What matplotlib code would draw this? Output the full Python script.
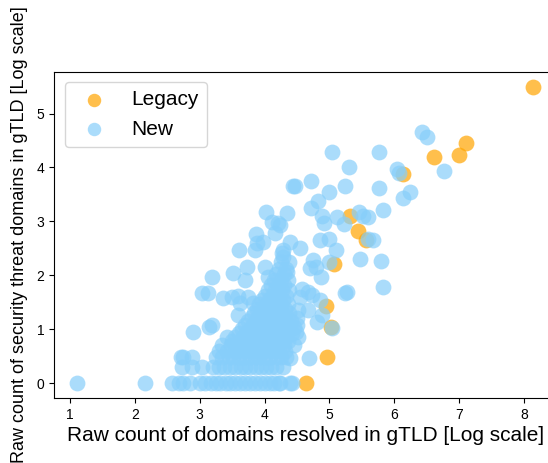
import matplotlib
matplotlib.use('Agg')
import matplotlib.pyplot as plt

plt.rcParams['font.family'] = ['Liberation Sans', 'DejaVu Sans']

# legacy gTLDs (log10 resolved, log10 threat)
legacy_x = [8.14, 7.10, 6.99, 6.61, 6.14, 5.31, 5.44, 5.56, 5.07, 4.94, 5.02, 4.96, 4.64]
legacy_y = [5.50, 4.46, 4.24, 4.20, 3.88, 3.10, 2.83, 2.66, 2.21, 1.43, 1.04, 0.48, 0.00]

# new gTLDs, the scattered ones
new_spread = [
    (1.11, 0), (2.15, 0), (2.57, 0), (2.68, 0), (2.74, 0), (2.85, 0), (3.00, 0), (3.08, 0),
    (2.71, 0.48), (2.74, 0.48), (2.88, 0.48), (2.73, 0.30), (2.88, 0.30), (3.04, 0.30),
    (2.90, 0.95), (3.14, 1.04), (3.19, 1.08), (3.42, 0.86), (3.59, 1.26),
    (3.04, 1.67), (3.13, 1.67), (3.36, 1.58), (3.50, 1.60), (3.59, 1.62), (3.74, 1.60),
    (3.62, 1.49), (3.82, 1.49),
    (3.19, 1.97), (3.51, 2.04), (3.70, 1.91), (3.73, 2.16), (4.00, 2.16), (4.06, 1.96), (4.34, 2.06),
    (3.60, 2.47), (3.85, 2.47), (3.87, 2.77), (3.97, 2.62), (3.88, 2.60), (4.16, 2.79),
    (4.11, 2.99), (4.20, 2.97), (4.02, 3.18), (4.34, 3.16),
    (4.28, 2.47), (4.39, 2.62), (4.28, 2.34), (4.24, 2.94), (4.27, 2.42), (4.54, 2.51),
    (4.44, 3.66), (4.47, 3.66), (4.71, 3.74), (4.82, 3.38), (4.71, 3.25), (4.88, 3.10), (4.91, 2.97),
    (5.04, 4.28), (5.76, 4.29), (5.30, 4.00), (6.04, 3.98), (6.07, 3.90), (6.42, 4.65),
    (6.51, 4.57), (6.76, 3.94),
    (5.24, 3.66), (5.00, 3.55), (5.76, 3.62), (6.24, 3.55), (6.14, 3.44),
    (5.11, 3.09), (5.22, 2.96), (5.45, 3.18), (5.51, 3.10), (5.60, 3.09), (5.82, 3.22),
    (4.85, 2.66), (4.99, 2.68), (5.10, 2.47), (5.59, 2.68), (5.67, 2.66),
    (4.74, 2.29), (4.79, 2.16), (5.00, 2.25), (5.47, 2.30), (5.79, 2.27), (4.70, 2.14),
    (4.87, 1.97), (4.73, 1.64), (4.67, 1.69), (5.27, 1.69), (5.24, 1.67), (5.82, 1.78),
    (4.85, 1.55),
    (4.67, 1.36), (4.88, 1.26), (4.80, 1.13), (5.04, 1.02), (4.51, 0.86), (4.50, 1.08),
    (4.68, 0.47), (4.39, 0.46), (4.28, 0.30), (4.42, 0), (4.39, 0), (4.24, 0),
]

# new gTLDs, the dense block around 10^4 resolved
new_dense = [
    (3.18, 0), (3.25, 0), (3.32, 0), (3.40, 0), (3.47, 0), (3.55, 0), (3.62, 0), (3.70, 0),
    (3.78, 0), (3.85, 0), (3.93, 0), (4.00, 0), (4.08, 0), (4.15, 0), (4.22, 0),
    (3.20, 0.30), (3.30, 0.30), (3.38, 0.30), (3.46, 0.30), (3.55, 0.30), (3.63, 0.30), (3.70, 0.30),
    (3.78, 0.30), (3.86, 0.30), (3.94, 0.30), (4.02, 0.30), (4.10, 0.30), (4.18, 0.30),
    (3.25, 0.48), (3.34, 0.48), (3.45, 0.48), (3.52, 0.48), (3.60, 0.48), (3.68, 0.48), (3.77, 0.48),
    (3.85, 0.48), (3.92, 0.48), (4.00, 0.48), (4.09, 0.48), (4.17, 0.48), (4.25, 0.48), (4.33, 0.48),
    (3.30, 0.60), (3.42, 0.60), (3.55, 0.60), (3.64, 0.60), (3.72, 0.60), (3.80, 0.60), (3.90, 0.60),
    (3.98, 0.60), (4.06, 0.60), (4.14, 0.60), (4.22, 0.60), (4.32, 0.60),
    (3.35, 0.70), (3.48, 0.70), (3.58, 0.70), (3.68, 0.70), (3.76, 0.70), (3.85, 0.70),
    (4.03, 0.70), (4.12, 0.70), (4.20, 0.70), (4.30, 0.70), (4.45, 0.70),
    (3.50, 0.78), (3.62, 0.78), (3.74, 0.78), (3.83, 0.78), (4.01, 0.78), (4.10, 0.78),
    (4.18, 0.78), (4.27, 0.78), (4.36, 0.78),
    (3.55, 0.85), (3.66, 0.85), (3.78, 0.85), (3.88, 0.85), (3.97, 0.85), (4.06, 0.85),
    (4.15, 0.85), (4.24, 0.85), (4.33, 0.85),
    (3.60, 0.93), (3.72, 0.93), (3.84, 0.93), (3.94, 0.93), (4.03, 0.93), (4.12, 0.93),
    (4.20, 0.93), (4.30, 0.93), (4.42, 0.93), (4.48, 0.95),
    (3.65, 1.00), (3.78, 1.00), (3.90, 1.00), (4.00, 1.00), (4.09, 1.00), (4.18, 1.00),
    (4.27, 1.00), (4.37, 1.00), (4.46, 1.05),
    (3.70, 1.08), (3.82, 1.08), (3.93, 1.08), (4.04, 1.08), (4.14, 1.08), (4.24, 1.08), (4.34, 1.08),
    (3.74, 1.15), (3.86, 1.15), (3.97, 1.15), (4.08, 1.15), (4.18, 1.15), (4.28, 1.15), (4.40, 1.15),
    (3.80, 1.23), (3.90, 1.23), (4.01, 1.23), (4.12, 1.23), (4.22, 1.23), (4.32, 1.23), (4.50, 1.20),
    (3.84, 1.30), (3.95, 1.30), (4.06, 1.30), (4.16, 1.30), (4.27, 1.30), (4.38, 1.30),
    (3.88, 1.38), (3.99, 1.38), (4.10, 1.38), (4.21, 1.38), (4.31, 1.38), (4.52, 1.35),
    (3.92, 1.46), (4.03, 1.46), (4.14, 1.46), (4.25, 1.46), (4.36, 1.46),
    (3.96, 1.54), (4.07, 1.54), (4.18, 1.54), (4.29, 1.54), (4.55, 1.60),
    (4.00, 1.62), (4.12, 1.62), (4.22, 1.62), (4.33, 1.62),
    (4.05, 1.72), (4.16, 1.72), (4.27, 1.72), (4.38, 1.72), (4.58, 1.75),
    (4.10, 1.82), (4.20, 1.82), (4.30, 1.82),
    (4.14, 1.92), (4.25, 1.92), (4.36, 1.92),
    (4.18, 2.02), (4.30, 2.02),
    (4.22, 2.12), (4.33, 2.12),
    (4.26, 2.25), (4.38, 2.25),
]

new_x = [p[0] for p in new_spread + new_dense]
new_y = [p[1] for p in new_spread + new_dense]

fig = plt.figure(figsize=(5.48, 4.63), dpi=100)
ax = fig.add_axes([0.0991, 0.1404, 0.9155, 0.7047])

ax.scatter(legacy_x, legacy_y, s=130, c='#FFA500', alpha=0.7, linewidths=0, label='Legacy')
ax.scatter(new_x, new_y, s=130, c='#87CEFA', alpha=0.7, linewidths=0, label='New')

ax.set_xticks(range(1, 9))
ax.set_yticks(range(0, 6))
ax.tick_params(labelsize=10)
ax.set_xlabel('Raw count of domains resolved in gTLD [Log scale]', fontsize=15, labelpad=3)
ax.set_ylabel('Raw count of security threat domains in gTLD [Log scale]', fontsize=13, labelpad=6)
ax.legend(loc='upper left', fontsize=15, markerscale=0.85)

fig.savefig('out.png', dpi=100)
